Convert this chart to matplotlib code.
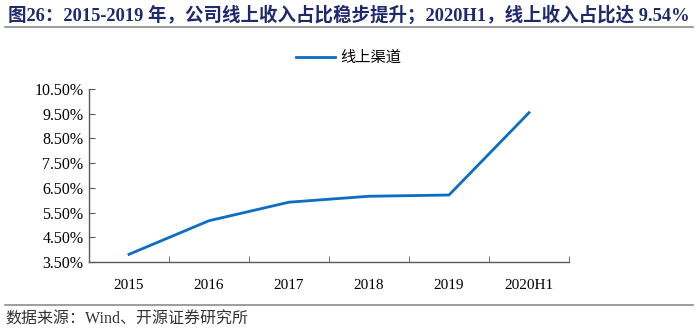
import matplotlib
matplotlib.use("Agg")
import matplotlib.pyplot as plt
from matplotlib.lines import Line2D

plt.rcParams['font.family'] = ['Liberation Serif', 'Noto Sans CJK SC']

# Данные
categories = ['2015', '2016', '2017', '2018', '2019', '2020H1']
online_share = [3.81, 5.17, 5.92, 6.16, 6.21, 9.54]
y_ticks = [3.5, 4.5, 5.5, 6.5, 7.5, 8.5, 9.5, 10.5]
y_labels = ['3.50%', '4.50%', '5.50%', '6.50%', '7.50%', '8.50%', '9.50%', '10.50%']

fig = plt.figure(figsize=(7, 3.34), dpi=100)
ax = fig.add_axes([89 / 700, 1 - 262 / 334, 480 / 700, 173 / 334])

x = range(len(categories))
ax.plot(x, online_share, color='#0A6EC4', linewidth=2.0, label='线上渠道')

ax.set_xlim(-0.5, len(categories) - 0.5)
ax.set_ylim(3.5, 10.5)
ax.set_yticks(y_ticks)
ax.set_yticklabels(y_labels, fontsize=11.5)
ax.set_xticks(x)
ax.set_xticklabels(categories, fontsize=11)
ax.set_xticks([i + 0.5 for i in range(-1, len(categories))], minor=True)
ax.tick_params(axis='x', which='major', length=0, pad=12)
ax.tick_params(axis='x', which='minor', direction='in', length=4, color='#595959')
ax.tick_params(axis='y', direction='in', length=4, color='#595959', pad=4)

for side in ['top', 'right']:
    ax.spines[side].set_visible(False)
for side in ['left', 'bottom']:
    ax.spines[side].set_color('#595959')
    ax.spines[side].set_linewidth(1.0)

ax.legend(loc='upper center', bbox_to_anchor=(0.54, 1.30), frameon=False,
          fontsize=11, handlelength=2.6, handletextpad=0.3)

# Заголовок и подписи
fig.text(0.012, 0.955, '图26：2015-2019 年，公司线上收入占比稳步提升；2020H1，线上收入占比达 9.54%',
         fontsize=13.3, fontweight='bold', color='#1F2A6E', va='center', ha='left')
fig.add_artist(Line2D([0.007, 0.99], [1 - 27 / 334, 1 - 27 / 334], color='#8C8C8C', linewidth=1.2))
fig.add_artist(Line2D([0.007, 0.99], [1 - 305 / 334, 1 - 305 / 334], color='#8C8C8C', linewidth=1.2))
fig.text(0.008, 1 - 320 / 334, '数据来源：Wind、开源证券研究所', fontsize=11.5, color='#333333',
         va='center', ha='left')

fig.savefig('out.png', dpi=100)
